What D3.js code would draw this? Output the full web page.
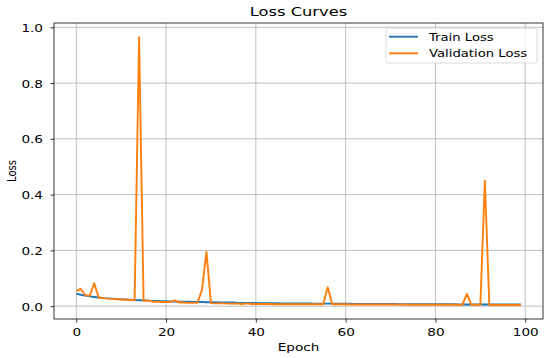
<!DOCTYPE html>
<html>
<head>
<meta charset="utf-8">
<script src="https://cdn.jsdelivr.net/npm/d3@7"></script>
<style>
  body { margin: 0; background: #fff; }
  text { font-family: "DejaVu Sans", sans-serif; fill: #000; }
</style>
</head>
<body>
<script>
// per-epoch losses
const trainLoss = [
  0.045, 0.041, 0.038, 0.035, 0.033, 0.031, 0.029, 0.028, 0.027, 0.026,
  0.025, 0.024, 0.023, 0.022, 0.021, 0.021, 0.020, 0.019, 0.019, 0.018,
  0.018, 0.017, 0.017, 0.016, 0.016, 0.016, 0.015, 0.015, 0.015, 0.014,
  0.014, 0.014, 0.013, 0.013, 0.013, 0.013, 0.012, 0.012, 0.012, 0.012,
  0.012, 0.011, 0.011, 0.011, 0.011, 0.011, 0.010, 0.010, 0.010, 0.010,
  0.010, 0.010, 0.010, 0.009, 0.009, 0.009, 0.009, 0.009, 0.009, 0.009,
  0.009, 0.009, 0.008, 0.008, 0.008, 0.008, 0.008, 0.008, 0.008, 0.008,
  0.008, 0.008, 0.007, 0.007, 0.007, 0.007, 0.007, 0.007, 0.007, 0.007,
  0.007, 0.007, 0.007, 0.007, 0.007, 0.006, 0.006, 0.006, 0.006, 0.006,
  0.006, 0.006, 0.006, 0.006, 0.006, 0.006, 0.006, 0.006, 0.006, 0.006
];
const valLoss = [
  0.054, 0.062, 0.040, 0.037, 0.082, 0.031, 0.029, 0.027, 0.026, 0.025,
  0.024, 0.023, 0.022, 0.021, 0.965, 0.019, 0.021, 0.016, 0.016, 0.015,
  0.015, 0.015, 0.021, 0.013, 0.013, 0.012, 0.012, 0.012, 0.058, 0.195,
  0.011, 0.010, 0.010, 0.010, 0.009, 0.009, 0.009, 0.008, 0.010, 0.008,
  0.008, 0.008, 0.008, 0.008, 0.007, 0.007, 0.007, 0.007, 0.007, 0.007,
  0.007, 0.007, 0.007, 0.007, 0.007, 0.007, 0.068, 0.007, 0.007, 0.007,
  0.007, 0.006, 0.006, 0.006, 0.006, 0.006, 0.006, 0.006, 0.006, 0.006,
  0.006, 0.006, 0.006, 0.006, 0.005, 0.005, 0.005, 0.005, 0.005, 0.005,
  0.005, 0.005, 0.005, 0.005, 0.005, 0.005, 0.005, 0.044, 0.005, 0.005,
  0.005, 0.450, 0.004, 0.004, 0.004, 0.004, 0.004, 0.004, 0.004, 0.004
];
const xTicks = [0, 20, 40, 60, 80, 100];
const yTicks = [0.0, 0.2, 0.4, 0.6, 0.8, 1.0];
const seriesNames = ["Train Loss", "Validation Loss"];
const seriesColors = ["#1f77b4", "#ff7f0e"];

const width = 550, height = 358;
const margin = {top: 23, right: 7, bottom: 39, left: 54};
// the source image is squashed vertically, so text is too
const sy = 0.8;

const svg = d3.select("body").append("svg")
  .attr("width", width)
  .attr("height", height);

const x = d3.scaleLinear()
  .domain([-4.95, 103.95])
  .range([margin.left, width - margin.right]);

const y = d3.scaleLinear()
  .domain([-0.046, 1.0155])
  .range([height - margin.bottom, margin.top]);

function label(parent, tx, ty, str, size, anchor) {
  return parent.append("text")
    .attr("transform", "translate(" + tx + "," + ty + ") scale(1," + sy + ")")
    .attr("text-anchor", anchor || "start")
    .attr("font-size", size)
    .text(str);
}

// grid
svg.append("g").selectAll("line").data(xTicks)
  .enter().append("line")
  .attr("x1", d => x(d)).attr("x2", d => x(d))
  .attr("y1", margin.top).attr("y2", height - margin.bottom)
  .attr("stroke", "#b0b0b0").attr("stroke-width", 0.8);
svg.append("g").selectAll("line").data(yTicks)
  .enter().append("line")
  .attr("x1", margin.left).attr("x2", width - margin.right)
  .attr("y1", d => y(d)).attr("y2", d => y(d))
  .attr("stroke", "#b0b0b0").attr("stroke-width", 0.8);

// lines
const line = d3.line()
  .x((d, i) => x(i))
  .y(d => y(d));

[trainLoss, valLoss].forEach(function(s, k) {
  svg.append("path")
    .datum(s)
    .attr("fill", "none")
    .attr("stroke", seriesColors[k])
    .attr("stroke-width", 1.9)
    .attr("stroke-linejoin", "round")
    .attr("d", line);
});

// frame
svg.append("rect")
  .attr("x", margin.left).attr("y", margin.top)
  .attr("width", width - margin.left - margin.right)
  .attr("height", height - margin.top - margin.bottom)
  .attr("fill", "none").attr("stroke", "#222").attr("stroke-width", 0.9);

// axes
const xAxis = svg.append("g")
  .attr("transform", "translate(0," + (height - margin.bottom) + ")")
  .call(d3.axisBottom(x).tickValues(xTicks).tickSize(3.5).tickFormat(d3.format("d")));
const yAxis = svg.append("g")
  .attr("transform", "translate(" + margin.left + ",0)")
  .call(d3.axisLeft(y).tickValues(yTicks).tickSize(3.5).tickFormat(d3.format(".1f")));
[xAxis, yAxis].forEach(function(a) {
  a.select(".domain").remove();
  a.selectAll("line").attr("stroke", "#000").attr("stroke-width", 0.8);
  a.selectAll("text")
    .attr("font-size", 13.6)
    .attr("font-family", "DejaVu Sans, sans-serif")
    .attr("x", null).attr("y", null).attr("dy", null);
});
xAxis.selectAll("text")
  .attr("transform", "translate(0,17) scale(1," + sy + ")");
yAxis.selectAll("text")
  .attr("transform", "translate(-11,4) scale(1," + sy + ")");

// labels
label(svg, (margin.left + width - margin.right) / 2, 16, "Loss Curves", 16.3, "middle");
label(svg, (margin.left + width - margin.right) / 2, 351, "Epoch", 13.6, "middle");
svg.append("text")
  .attr("transform", "translate(16," + ((margin.top + height - margin.bottom) / 2) + ") scale(1," + sy + ") rotate(-90)")
  .attr("text-anchor", "middle")
  .attr("font-size", 12.5)
  .text("Loss");

// legend
const legend = svg.append("g").attr("transform", "translate(386,28)");
legend.append("rect")
  .attr("width", 151).attr("height", 35).attr("rx", 2.5)
  .attr("fill", "#fff").attr("fill-opacity", 0.8)
  .attr("stroke", "#d0d0d0").attr("stroke-width", 0.8);
seriesNames.forEach(function(name, i) {
  const cy = 8.7 + i * 16.6;
  legend.append("line")
    .attr("x1", 3).attr("x2", 32)
    .attr("y1", cy).attr("y2", cy)
    .attr("stroke", seriesColors[i]).attr("stroke-width", 1.9);
  label(legend, 43, cy + 4, name, 13.2);
});
</script>
</body>
</html>
